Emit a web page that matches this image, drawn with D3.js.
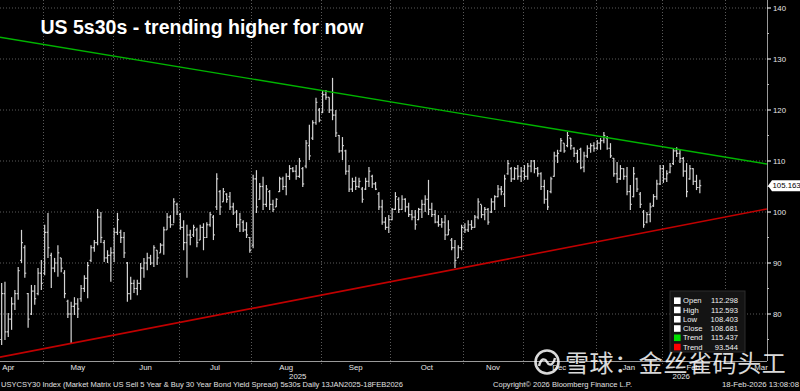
<!DOCTYPE html>
<html><head><meta charset="utf-8">
<script src="https://cdn.jsdelivr.net/npm/d3@7/dist/d3.min.js"></script>
<style>html,body{margin:0;padding:0;background:#000;}svg{display:block;}</style>
</head><body>
<svg id="chart" width="800" height="391"></svg>
<script>
// ---------- DATA ----------
const title = "US 5s30s - trending higher for now";
const axisStart = "2025-04-01";
const axisEnd = "2026-03-31";
const dataStart = "2025-04-11";
const holidays = ["2025-04-18","2025-05-26","2025-06-19","2025-07-04","2025-09-01","2025-10-13",
  "2025-11-11","2025-11-27","2025-12-25","2026-01-01","2026-01-19","2026-02-16"];
const visibleSpan = [-0.5, 231.3]; // trading days relative to dataStart shown in plot

const high = [
 86.1,86.3,80.2,83.3,84.7,89.2,96.5,93.5,84.1,85.7,
 85.7,89.0,90.6,97.5,99.8,92.0,91.0,93.5,91.0,88.6,
 82.8,82.4,83.3,83.1,85.7,87.6,90.2,93.5,94.5,100.6,
 100.0,94.5,92.5,93.1,96.9,99.8,96.5,96.1,90.2,87.3,
 86.7,86.7,90.0,91.0,92.0,91.6,93.5,92.5,93.9,97.1,
 99.8,99.4,102.7,101.8,99.8,98.4,97.5,96.5,97.5,96.9,
 97.5,97.8,98.0,100.0,99.4,107.6,104.3,104.7,103.7,103.9,
 101.8,100.4,99.8,98.4,98.0,95.1,107.3,108.2,105.7,106.9,
 105.3,104.3,102.4,102.7,106.9,106.9,107.6,109.2,108.8,109.2,
 110.6,108.8,114.1,117.1,118.0,122.4,120.4,123.9,123.9,122.5,
 126.3,120.0,115.1,114.7,112.2,109.2,106.7,106.9,106.7,104.9,
 106.7,108.8,107.3,105.9,103.9,102.4,99.0,99.4,100.8,103.9,
 102.9,103.3,102.7,101.8,100.4,100.4,100.8,102.4,103.3,106.3,
 101.8,100.4,99.4,98.8,99.4,98.4,94.9,94.5,93.5,97.5,
 97.8,98.4,98.4,99.4,102.7,101.4,101.0,100.8,102.7,103.3,
 105.3,105.1,107.3,110.2,108.8,108.8,109.2,108.8,109.2,109.6,
 110.2,110.2,108.8,107.8,106.3,104.3,106.9,111.8,112.2,114.5,
 113.5,115.7,114.5,112.7,112.2,112.593,111.8,113.1,113.5,113.7,
 114.1,114.5,115.7,114.9,113.5,110.6,109.8,109.2,108.6,108.8,
 105.3,108.8,106.7,103.9,100.4,100.0,101.8,103.5,106.3,109.2,
 109.2,108.2,109.6,112.5,112.7,112.2,110.8,109.6,109.2,108.6,
 107.3,106.3
];
const low = [
 73.9,74.9,75.5,76.9,80.8,82.8,90.0,87.1,77.3,79.8,
 81.8,83.7,84.7,87.6,91.0,85.1,88.2,87.3,88.2,83.1,
 79.2,74.3,79.8,79.2,82.4,84.3,83.1,90.2,92.2,93.5,
 93.9,90.2,90.0,86.3,90.2,95.5,93.9,91.0,82.4,82.8,
 84.1,83.7,84.7,87.1,88.6,89.6,89.2,89.6,92.0,91.6,
 96.5,96.9,97.8,99.4,96.5,92.5,87.1,93.5,95.1,93.1,
 94.5,92.5,94.9,97.1,94.5,100.4,99.4,102.0,101.8,100.4,
 99.4,96.9,96.1,96.1,94.9,92.0,92.9,99.8,102.4,100.4,
 101.0,100.4,100.0,101.0,103.9,104.3,103.3,106.3,107.8,106.3,
 106.7,104.9,108.6,110.2,114.1,117.1,117.6,119.4,122.0,119.4,
 118.0,114.7,111.6,110.2,107.3,103.9,103.9,104.3,104.7,101.8,
 104.3,104.9,104.7,104.3,100.4,97.5,96.5,95.9,98.4,100.4,
 99.8,100.4,100.0,99.0,98.4,96.5,98.4,98.8,100.0,99.4,
 99.0,97.8,97.1,96.9,94.5,95.5,92.5,89.0,91.0,92.5,
 95.9,96.1,96.5,96.9,98.6,98.8,98.4,97.5,99.8,100.4,
 102.9,103.3,101.0,107.3,105.9,106.3,106.3,105.9,106.3,106.3,
 107.8,107.6,106.9,104.3,101.6,100.4,103.7,106.9,109.6,111.8,
 111.6,112.7,112.2,110.8,109.6,108.403,107.8,110.6,111.6,111.8,
 112.2,112.2,113.5,112.2,110.6,106.9,105.7,106.3,106.3,103.3,
 100.4,102.9,103.9,100.8,96.9,97.8,98.0,101.0,102.4,105.3,
 105.7,105.9,107.6,109.2,110.8,109.6,106.9,102.9,106.3,105.3,
 104.3,103.7
];
const open = [
 75.0,84.0,76.5,79.0,82.0,84.0,90.5,93.0,84.0,80.0,
 84.5,84.0,88.0,88.0,96.0,91.5,89.0,90.0,91.0,88.0,
 82.5,80.0,81.5,82.0,83.0,85.0,87.0,90.5,93.0,94.0,
 99.0,94.0,91.0,91.5,92.0,96.0,96.0,95.0,90.0,84.0,
 86.0,85.0,86.0,89.0,90.0,91.0,90.0,92.5,92.0,93.5,
 96.5,99.0,97.5,101.5,99.5,97.0,94.0,95.5,95.5,96.5,
 94.5,97.0,95.0,97.5,99.0,101.0,104.0,102.0,103.5,103.0,
 101.0,100.0,97.5,98.0,96.5,95.0,93.5,106.5,102.5,105.0,
 101.5,104.0,101.5,101.0,104.0,106.5,105.0,107.0,108.5,108.0,
 107.0,108.5,109.0,113.0,114.5,117.5,120.0,119.5,123.0,122.5,
 120.0,119.0,115.0,112.0,112.0,108.0,104.5,106.0,105.0,104.5,
 104.5,106.0,107.0,105.5,103.5,101.0,98.0,97.0,98.5,100.5,
 102.5,100.5,102.5,101.0,99.5,99.0,98.5,100.5,101.5,102.5,
 100.5,99.5,98.0,97.5,98.0,95.5,94.5,93.0,91.0,93.0,
 97.0,96.5,97.5,97.0,99.0,101.5,99.5,100.5,100.0,102.0,
 103.0,104.5,103.5,107.5,108.5,106.5,108.5,107.0,108.0,107.0,
 109.0,110.0,108.5,107.5,105.0,102.5,104.0,107.0,111.0,112.0,
 113.5,113.0,114.5,112.5,111.5,112.298,108.8,111.0,112.5,113.0,
 112.5,113.5,114.0,114.5,112.5,110.5,107.5,106.5,108.5,107.0,
 104.0,103.0,106.5,103.5,100.0,98.0,99.5,101.2,103.0,105.5,
 108.5,106.5,107.8,109.5,112.0,111.5,110.5,108.0,106.5,108.5,
 106.0,104.8
];
const close = [
 84.0,76.5,79.0,82.0,84.0,88.5,94.0,88.0,79.0,84.5,
 83.0,88.0,86.0,96.0,93.0,89.0,90.0,92.0,89.0,84.0,
 80.0,81.5,82.0,81.0,85.0,87.0,89.5,93.0,94.0,99.0,
 95.0,91.0,91.5,92.0,96.0,98.5,95.0,92.0,84.0,86.0,
 85.0,86.0,89.0,90.0,91.0,90.0,93.0,91.0,93.5,96.5,
 99.0,97.5,102.0,100.0,97.0,94.0,95.5,95.0,97.0,94.0,
 97.0,95.0,97.5,99.5,95.5,106.5,101.0,104.0,102.5,101.0,
 99.8,97.5,98.5,96.5,95.5,92.5,106.5,101.0,105.0,101.5,
 104.5,101.5,100.5,102.5,106.5,105.0,107.0,108.5,108.0,107.0,
 110.0,105.5,113.5,111.0,117.5,121.5,118.0,123.0,122.5,120.0,
 119.0,115.5,112.0,113.0,108.0,104.5,106.0,105.0,106.0,102.5,
 106.0,108.0,105.5,104.5,101.0,98.0,97.0,98.5,100.5,103.0,
 100.5,102.5,101.0,99.5,99.0,97.5,100.5,101.5,102.5,100.5,
 99.5,98.0,97.5,98.0,95.5,96.5,93.0,90.5,93.0,97.0,
 96.5,97.5,97.0,99.0,102.0,99.5,100.5,98.0,102.0,103.0,
 104.5,104.0,106.5,109.5,106.5,108.5,107.0,108.0,107.0,109.0,
 110.0,108.5,107.5,105.0,102.5,101.0,106.5,111.0,111.5,114.0,
 112.0,115.0,113.0,111.5,110.0,108.681,111.0,112.5,113.0,112.5,
 113.5,114.0,115.0,112.5,111.0,107.5,106.5,108.5,107.0,104.0,
 101.5,107.5,104.5,101.5,97.5,99.5,101.0,103.0,105.5,108.5,
 106.5,107.5,109.0,112.0,111.5,110.5,108.0,104.0,108.5,106.0,
 104.8,105.163
];
const trendGreen = [["2025-04-11", 134.2], ["2025-12-24", 115.437]];
const trendRed = [["2025-04-11", 71.6], ["2025-12-24", 93.544]];
const yTicks = [80, 90, 100, 110, 120, 130, 140];
const yMinor = [75, 85, 95, 105, 115, 125, 135];
const monthNames = ["Jan","Feb","Mar","Apr","May","Jun","Jul","Aug","Sep","Oct","Nov","Dec"];
const legendRows = [["Open","112.298","#ffffff"],["High","112.593","#ffffff"],["Low","108.403","#ffffff"],
  ["Close","108.681","#ffffff"],["Trend","115.437","#00e000"],["Trend","93.544","#ff0000"]];
const lastValue = "105.163";
const footerLeft = "USYCSY30 Index (Market Matrix US Sell 5 Year & Buy 30 Year Bond Yield Spread) 5s30s Daily 13JAN2025-18FEB2026";
const footerMid = "Copyright\u00A9 2026 Bloomberg Finance L.P.";
const footerRight = "18-Feb-2026 13:08:08";
const watermark = "雪球：金丝雀码头工";

// ---------- LAYOUT ----------
const W = 800, H = 391, plotR = 767, plotB = 361;
const svg = d3.select("#chart");
svg.append("rect").attr("width", W).attr("height", H).attr("fill", "#000");

const parse = d3.utcParse("%Y-%m-%d"), fmt = d3.utcFormat("%Y-%m-%d");
const hol = new Set(holidays);
const days = d3.utcDays(parse(axisStart), d3.utcDay.offset(parse(axisEnd), 1))
  .filter(d => d.getUTCDay() !== 0 && d.getUTCDay() !== 6 && !hol.has(fmt(d)));
const idx = new Map(days.map((d, i) => [fmt(d), i]));
const first = idx.get(dataStart);
const bars = high.map((h, i) => ({ g: first + i, h, l: low[i], o: open[i], c: close[i] }));

const x = d3.scaleLinear().domain([first + visibleSpan[0], first + visibleSpan[1]]).range([0, plotR]);
const y = d3.scaleLinear().domain([80, 140]).range([314, 8]);

svg.append("defs").append("clipPath").attr("id", "clip")
  .append("rect").attr("x", 0).attr("y", 0).attr("width", plotR).attr("height", plotB);

const gridColor = "#5a5a5a";
// horizontal grid
svg.append("g").selectAll("line").data(yTicks).join("line")
  .attr("x1", 0).attr("x2", plotR).attr("y1", d => y(d)).attr("y2", d => y(d))
  .attr("stroke", gridColor).attr("stroke-width", 1).attr("stroke-dasharray", "1,2");

// month groups
const months = d3.groups(days.map((d, i) => ({ d, i })), o => o.d.getUTCFullYear() * 12 + o.d.getUTCMonth())
  .map(([key, arr]) => ({ key, year: Math.floor(key / 12), m: key % 12, s: arr[0].i, e: arr[arr.length - 1].i }));

const boundaries = months.filter(mo => x(mo.s - 0.5) > 1 && x(mo.s - 0.5) < plotR);
svg.append("g").selectAll("line").data(boundaries).join("line")
  .attr("x1", d => Math.round(x(d.s - 0.5)) + 0.5).attr("x2", d => Math.round(x(d.s - 0.5)) + 0.5)
  .attr("y1", 0).attr("y2", plotB + 4)
  .attr("stroke", gridColor).attr("stroke-width", 1).attr("stroke-dasharray", "1,2");

// OHLC bars
const gb = svg.append("g").attr("clip-path", "url(#clip)").attr("stroke", "#d4d4d4").attr("stroke-width", 1.2);
gb.selectAll("line.hl").data(bars).join("line").attr("class", "hl")
  .attr("x1", d => x(d.g)).attr("x2", d => x(d.g)).attr("y1", d => y(d.h)).attr("y2", d => y(d.l));
gb.selectAll("line.op").data(bars).join("line").attr("class", "op")
  .attr("x1", d => x(d.g) - 1.4).attr("x2", d => x(d.g)).attr("y1", d => y(d.o)).attr("y2", d => y(d.o));
gb.selectAll("line.cl").data(bars).join("line").attr("class", "cl")
  .attr("x1", d => x(d.g)).attr("x2", d => x(d.g) + 1.4).attr("y1", d => y(d.c)).attr("y2", d => y(d.c));

// trend lines (extended across the plot)
function trendLine(t, color, w) {
  const g0 = idx.get(t[0][0]), g1 = idx.get(t[1][0]);
  const slope = (t[1][1] - t[0][1]) / (g1 - g0);
  const [a, b] = x.domain();
  const pts = [a, b].map(g => [x(g), y(t[0][1] + slope * (g - g0))]);
  svg.append("path").attr("clip-path", "url(#clip)")
    .attr("d", d3.line()(pts)).attr("stroke", color).attr("stroke-width", w).attr("fill", "none");
}
trendLine(trendGreen, "#00b400", 1.4);
trendLine(trendRed, "#c00000", 1.6);

// axes lines
svg.append("line").attr("x1", plotR + 0.5).attr("x2", plotR + 0.5).attr("y1", 0).attr("y2", plotB)
  .attr("stroke", "#9a9a9a").attr("stroke-width", 1);
svg.append("line").attr("x1", 0).attr("x2", plotR).attr("y1", plotB + 0.5).attr("y2", plotB + 0.5)
  .attr("stroke", "#9a9a9a").attr("stroke-width", 1);

const font = "'Liberation Sans', Arial, sans-serif";
// right axis ticks + labels
const ra = svg.append("g");
ra.selectAll("line.t").data(yTicks).join("line").attr("class", "t")
  .attr("x1", plotR).attr("x2", plotR + 4).attr("y1", d => y(d)).attr("y2", d => y(d))
  .attr("stroke", "#e0e0e0").attr("stroke-width", 1.2);
ra.selectAll("line.m").data(yMinor).join("line").attr("class", "m")
  .attr("x1", plotR).attr("x2", plotR + 2).attr("y1", d => y(d)).attr("y2", d => y(d))
  .attr("stroke", "#bbb").attr("stroke-width", 1);
ra.selectAll("text").data(yTicks).join("text")
  .attr("x", plotR + 6).attr("y", d => y(d)).attr("dy", "0.35em")
  .attr("font-family", font).attr("font-size", 7.8).attr("fill", "#e6e6e6").text(d => d);

// month labels
const monthsVisible = months.filter(mo => x(mo.e + 0.5) > 0 && x(mo.s - 0.5) < plotR);
svg.append("g").selectAll("text").data(monthsVisible).join("text")
  .attr("x", d => (x(d.s - 0.5) + x(d.e + 0.5)) / 2).attr("y", 369.5)
  .attr("text-anchor", "middle").attr("font-family", font).attr("font-size", 7.8).attr("fill", "#e6e6e6")
  .text(d => monthNames[d.m]);

// year labels
const years = d3.groups(monthsVisible, d => d.year).map(([yr, arr]) => {
  const a = Math.max(0, x(arr[0].s - 0.5)), b = Math.min(plotR, x(arr[arr.length - 1].e + 0.5));
  return { yr, c: (a + b) / 2 };
});
svg.append("g").selectAll("text").data(years).join("text")
  .attr("x", d => d.c).attr("y", 378.5).attr("text-anchor", "middle")
  .attr("font-family", font).attr("font-size", 7.8).attr("fill", "#e6e6e6").text(d => d.yr);

// title
svg.append("text").attr("x", 40.5).attr("y", 33.5).attr("font-family", font).attr("font-weight", "bold")
  .attr("font-size", 19.5).attr("fill", "#ffffff").text(title);

// last value label
const lv = y(close[close.length - 1]);
svg.append("path").attr("d", d3.line()([[plotR + 1, lv], [plotR + 5, lv - 5.5], [W, lv - 5.5], [W, lv + 5.5], [plotR + 5, lv + 5.5]]) + "Z")
  .attr("fill", "#ffffff");
svg.append("text").attr("x", plotR + 5.5).attr("y", lv).attr("dy", "0.36em")
  .attr("font-family", font).attr("font-size", 7.8).attr("fill", "#000").text(lastValue);

// legend
const lg = svg.append("g");
lg.append("rect").attr("x", 670).attr("y", 291).attr("width", 75).attr("height", 61)
  .attr("fill", "#141414").attr("stroke", "#2c2c2c");
legendRows.forEach((r, i) => {
  const cy = 300.7 + i * 9.27;
  lg.append("rect").attr("x", 674).attr("y", cy - 3.3).attr("width", 6.6).attr("height", 6.6).attr("fill", r[2]);
  lg.append("text").attr("x", 683).attr("y", cy).attr("dy", "0.35em").attr("font-family", font)
    .attr("font-size", 7.6).attr("fill", "#f0f0f0").text(r[0]);
  lg.append("text").attr("x", 738).attr("y", cy).attr("dy", "0.35em").attr("text-anchor", "end")
    .attr("font-family", font).attr("font-size", 7.6).attr("fill", "#f0f0f0").text(r[1]);
});

// watermark
const wm = svg.append("g").attr("opacity", 0.85);
wm.append("circle").attr("cx", 547).attr("cy", 362).attr("r", 11.5).attr("fill", "none")
  .attr("stroke", "#ffffff").attr("stroke-width", 2.6);
wm.append("path").attr("d", "M539,366 C541,358 545,358 547,362 C549,366 553,366 555,358")
  .attr("fill", "none").attr("stroke", "#ffffff").attr("stroke-width", 2.4);
wm.append("text").attr("x", 565).attr("y", 372).attr("font-family", "'Noto Sans CJK SC', sans-serif")
  .attr("font-size", 24).attr("letter-spacing", 0.6).attr("fill", "#ffffff").text(watermark);

// footer
function foot(t, xx, len) {
  svg.append("text").attr("x", xx).attr("y", 387).attr("font-family", font).attr("font-size", 7.6)
    .attr("fill", "#e0e0e0").attr("textLength", len).attr("lengthAdjust", "spacingAndGlyphs").text(t);
}
foot(footerLeft, 1, 402);
foot(footerMid, 493, 139);
foot(footerRight, 722, 77);
</script>
</body></html>
